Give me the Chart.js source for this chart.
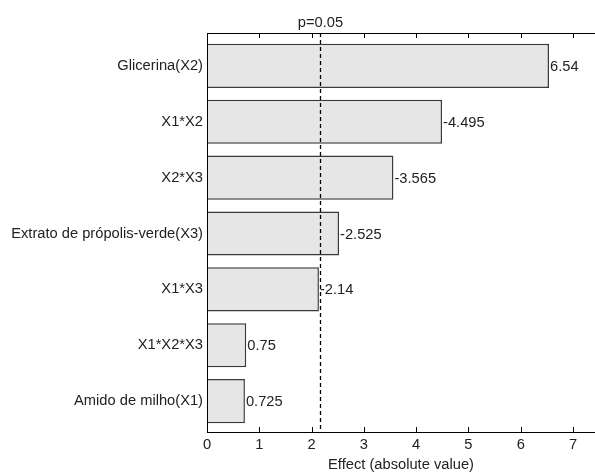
<!DOCTYPE html>
<html>
<head>
<meta charset="utf-8">
<script src="https://cdn.jsdelivr.net/npm/chart.js@4"></script>
<style>
  html, body { margin: 0; padding: 0; background: #fff; }
  #wrap { width: 595px; height: 473px; }
</style>
</head>
<body>
<div id="wrap"><canvas id="paretoChart" width="595" height="473"></canvas></div>
<script>
var categories = ['Glicerina(X2)', 'X1*X2', 'X2*X3', 'Extrato de própolis-verde(X3)', 'X1*X3', 'X1*X2*X3', 'Amido de milho(X1)'];
var effects = [6.54, -4.495, -3.565, -2.525, -2.14, 0.75, 0.725];
var absEffects = effects.map(function (v) { return Math.abs(v); });
var xTicks = [0, 1, 2, 3, 4, 5, 6, 7];
var pLimit = 2.16;
var pLabel = 'p=0.05';

var FONT = '"Liberation Sans", Arial, sans-serif';
var FSIZE = 14.7;

var extras = {
    id: 'extras',
    afterDatasetsDraw: function (chart) {
        var ctx = chart.ctx;
        var area = chart.chartArea;
        var xs = chart.scales.x;
        var axisTop = area.top - 5;
        var axisBottom = area.bottom + 3;
        ctx.save();

        // value labels
        ctx.font = FSIZE + 'px ' + FONT;
        ctx.fillStyle = '#222';
        ctx.textAlign = 'left';
        ctx.textBaseline = 'middle';
        chart.getDatasetMeta(0).data.forEach(function (bar, i) {
            ctx.fillText(String(effects[i]), bar.x + 1, bar.y + 1);
        });

        // axes frame
        ctx.strokeStyle = '#000';
        ctx.lineWidth = 1;
        ctx.beginPath();
        ctx.moveTo(area.left + 0.5, axisTop);
        ctx.lineTo(area.left + 0.5, axisBottom);
        ctx.moveTo(area.left, axisTop + 0.5);
        ctx.lineTo(chart.width, axisTop + 0.5);
        ctx.moveTo(area.left, axisBottom + 0.5);
        ctx.lineTo(chart.width, axisBottom + 0.5);
        xTicks.forEach(function (t) {
            if (t === 0) return;
            var px = Math.round(xs.getPixelForValue(t)) + 0.5;
            ctx.moveTo(px, axisTop);
            ctx.lineTo(px, axisTop + 5);
            ctx.moveTo(px, axisBottom);
            ctx.lineTo(px, axisBottom - 5);
        });
        ctx.stroke();

        // significance line
        var lx = Math.round(xs.getPixelForValue(pLimit)) + 0.5;
        ctx.lineWidth = 1.3;
        ctx.setLineDash([4, 3]);
        ctx.beginPath();
        ctx.moveTo(lx, axisTop);
        ctx.lineTo(lx, axisBottom);
        ctx.stroke();
        ctx.setLineDash([]);

        ctx.textAlign = 'center';
        ctx.textBaseline = 'alphabetic';
        ctx.fillStyle = '#222';
        ctx.fillText(pLabel, lx, axisTop - 6);
        ctx.restore();
    }
};

var ctx = document.getElementById('paretoChart').getContext('2d');
var paretoChart = new Chart(ctx, {
    type: 'bar',
    data: {
        labels: categories,
        datasets: [{
            data: absEffects,
            backgroundColor: '#e6e6e6',
            borderColor: '#3a3a3a',
            borderWidth: 1.5,
            borderSkipped: 'start',
            barPercentage: 0.79,
            categoryPercentage: 1
        }]
    },
    options: {
        indexAxis: 'y',
        responsive: false,
        animation: false,
        layout: { padding: { top: 38, right: 0, left: 0, bottom: 0 } },
        scales: {
            x: {
                type: 'linear',
                min: 0,
                max: 7.42,
                afterBuildTicks: function (scale) {
                    scale.ticks = xTicks.map(function (v) { return { value: v }; });
                },
                afterFit: function (scale) { scale.height = 44; },
                grid: { display: false, drawTicks: false },
                border: { display: false },
                ticks: {
                    padding: 7,
                    color: '#222',
                    font: { family: FONT, size: FSIZE }
                },
                title: {
                    display: true,
                    text: 'Effect (absolute value)',
                    color: '#222',
                    padding: { top: 0, bottom: -1 },
                    font: { family: FONT, size: FSIZE }
                }
            },
            y: {
                afterFit: function (scale) { scale.width = 207; },
                grid: { display: false, drawTicks: false },
                border: { display: false },
                ticks: {
                    padding: 4,
                    color: '#222',
                    font: { family: FONT, size: FSIZE }
                }
            }
        },
        plugins: {
            legend: { display: false },
            tooltip: { enabled: false }
        }
    },
    plugins: [extras]
});
</script>
</body>
</html>
